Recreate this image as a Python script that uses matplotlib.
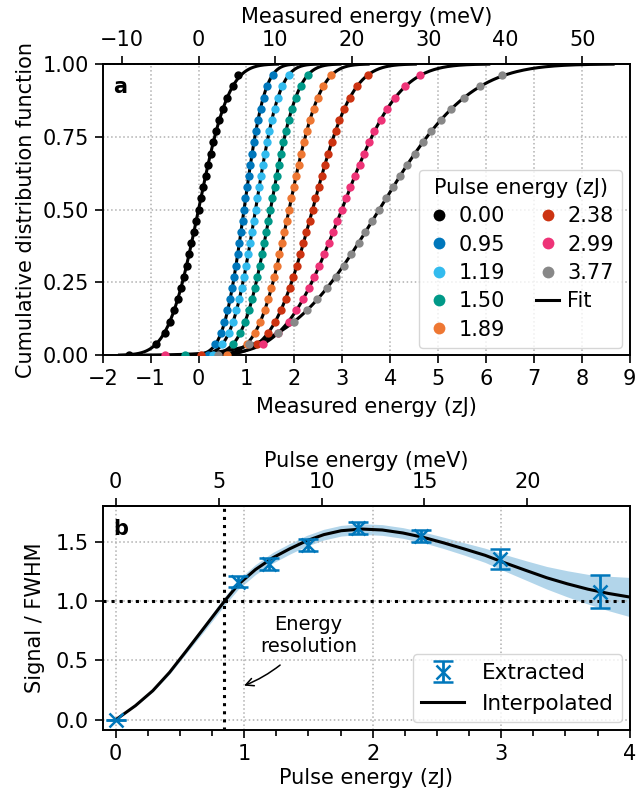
import math
import numpy as np
import matplotlib
matplotlib.use("Agg")
import matplotlib.pyplot as plt
from matplotlib.lines import Line2D

ZJ_TO_MEV = 6.2415

# ---- panel a: measured energy samples (zJ), 26 per pulse, CDF levels k/26
pulses = ["0.00", "0.95", "1.19", "1.50", "1.89", "2.38", "2.99", "3.77"]
colors = ["#000000", "#0077BB", "#33BBEE", "#009988", "#EE7733", "#CC3311", "#EE3377", "#888888"]
fit_mu = [0.00, 0.95, 1.19, 1.50, 1.89, 2.38, 2.99, 3.77]
fit_sigma = [0.50, 0.335, 0.39, 0.44, 0.50, 0.65, 0.93, 1.48]

samples = [
    [-1.46, -0.88, -0.71, -0.60, -0.51, -0.43, -0.37, -0.31, -0.25, -0.20, -0.15, -0.10, -0.05,
     0.00, 0.05, 0.10, 0.15, 0.20, 0.25, 0.31, 0.37, 0.43, 0.51, 0.60, 0.71, 0.83],
    [0.20, 0.35, 0.47, 0.54, 0.60, 0.66, 0.70, 0.74, 0.78, 0.82, 0.85, 0.88, 0.92,
     0.95, 0.98, 1.02, 1.05, 1.08, 1.12, 1.16, 1.20, 1.25, 1.30, 1.36, 1.43, 1.55],
    [0.30, 0.50, 0.63, 0.72, 0.79, 0.85, 0.90, 0.95, 0.99, 1.04, 1.08, 1.11, 1.15,
     1.19, 1.23, 1.27, 1.30, 1.34, 1.39, 1.43, 1.48, 1.53, 1.59, 1.66, 1.75, 1.88],
    [-0.28, 0.72, 0.87, 0.97, 1.05, 1.12, 1.18, 1.23, 1.28, 1.33, 1.37, 1.41, 1.46,
     1.50, 1.54, 1.59, 1.63, 1.67, 1.72, 1.77, 1.82, 1.88, 1.95, 2.03, 2.13, 2.28],
    [0.60, 1.01, 1.18, 1.29, 1.38, 1.46, 1.52, 1.58, 1.64, 1.69, 1.74, 1.79, 1.84,
     1.89, 1.94, 1.99, 2.04, 2.09, 2.14, 2.20, 2.26, 2.32, 2.40, 2.49, 2.60, 2.77],
    [0.05, 1.23, 1.45, 1.60, 1.72, 1.82, 1.90, 1.98, 2.05, 2.12, 2.19, 2.25, 2.32,
     2.38, 2.44, 2.51, 2.57, 2.64, 2.71, 2.78, 2.86, 2.94, 3.04, 3.16, 3.31, 3.53],
    [-0.70, 1.35, 1.66, 1.88, 2.04, 2.18, 2.31, 2.42, 2.52, 2.62, 2.72, 2.81, 2.90,
     2.99, 3.08, 3.17, 3.26, 3.36, 3.46, 3.56, 3.67, 3.80, 3.94, 4.10, 4.32, 4.62],
    [0.40, 1.05, 1.66, 2.00, 2.26, 2.48, 2.68, 2.86, 3.03, 3.18, 3.34, 3.48, 3.63,
     3.77, 3.91, 4.06, 4.20, 4.36, 4.51, 4.68, 4.86, 5.06, 5.28, 5.54, 5.88, 6.34],
]

# ---- panel b
ext_x = [0.0, 0.95, 1.19, 1.50, 1.89, 2.38, 2.99, 3.77]
ext_y = [0.0, 1.162, 1.313, 1.47, 1.615, 1.545, 1.355, 1.078]
ext_err = [0.0, 0.045, 0.05, 0.05, 0.05, 0.05, 0.085, 0.14]

interp_x = [0, 0.155, 0.29, 0.42, 0.55, 0.69, 0.848, 0.955, 1.088, 1.221, 1.355, 1.488, 1.62, 1.755,
            1.915, 2.075, 2.235, 2.395, 2.555, 2.715, 2.875, 3.03, 3.195, 3.355, 3.515, 3.675, 3.835, 4.0]
interp_y = [0, 0.12, 0.246, 0.40, 0.58, 0.777, 1.0, 1.14, 1.265, 1.363, 1.44, 1.508, 1.559, 1.592,
            1.606, 1.598, 1.573, 1.536, 1.489, 1.438, 1.385, 1.321, 1.257, 1.196, 1.145, 1.10, 1.064, 1.034]
band_hw = [0, 0.005, 0.01, 0.015, 0.02, 0.03, 0.035, 0.04, 0.042, 0.045, 0.045, 0.045, 0.045, 0.045,
           0.045, 0.045, 0.045, 0.045, 0.048, 0.052, 0.06, 0.07, 0.082, 0.095, 0.11, 0.125, 0.145, 0.165]

resolution = 0.842

plt.rcParams["font.family"] = ["DejaVu Sans"]
plt.rcParams["font.size"] = 15
plt.rcParams["axes.linewidth"] = 1.4
plt.rcParams["xtick.major.width"] = 1.2
plt.rcParams["ytick.major.width"] = 1.2
plt.rcParams["xtick.minor.width"] = 1.2
plt.rcParams["xtick.major.size"] = 5.8
plt.rcParams["ytick.major.size"] = 5.8
plt.rcParams["xtick.minor.size"] = 4.5
plt.rcParams["xtick.major.pad"] = 4
plt.rcParams["ytick.major.pad"] = 4

fig = plt.figure(figsize=(6.38, 8.0), dpi=100)
grid_kw = dict(linestyle=":", color="#b0b0b0", linewidth=1.1)

# ---------------- panel a
ax = fig.add_axes([0.161, 0.556, 0.826, 0.364])
ax.grid(True, **grid_kw)
for mu, sg in zip(fit_mu, fit_sigma):
    xs = np.linspace(mu - 3.3 * sg, mu + 3.3 * sg, 200)
    ys = [0.5 * (1 + math.erf((v - mu) / (sg * math.sqrt(2)))) for v in xs]
    ax.plot(xs, ys, color="black", lw=2.2, zorder=2)
handles = []
for s, c, lab in zip(samples, colors, pulses):
    lev = np.arange(len(s)) / len(s)
    ax.plot(s, lev, "o", color=c, ms=6.0, mec="none", zorder=3)
    handles.append(Line2D([], [], marker="o", ls="none", color=c, ms=8.5, mec="none", label=lab))
handles.append(Line2D([], [], color="black", lw=2.2, label="Fit"))
ax.set_xlim(-2, 9)
ax.set_ylim(0, 1)
ax.set_xticks(range(-2, 10))
ax.set_yticks([0, 0.25, 0.5, 0.75, 1.0])
ax.set_yticklabels(["0.00", "0.25", "0.50", "0.75", "1.00"])
ax.set_xlabel("Measured energy (zJ)", labelpad=6)
ax.set_ylabel("Cumulative distribution function", labelpad=5)
ax.text(0.02, 0.9, "a", transform=ax.transAxes, fontweight="bold", fontsize=15)
leg = ax.legend(handles=handles, ncol=2, loc="lower right", title="Pulse energy (zJ)",
                fontsize=15, title_fontsize=15, handlelength=1.1, handletextpad=0.4,
                columnspacing=1.5, labelspacing=0.4, borderpad=0.4, borderaxespad=0.35)
sec = ax.secondary_xaxis("top", functions=(lambda x: x * ZJ_TO_MEV, lambda x: x / ZJ_TO_MEV))
sec.set_xticks(range(-10, 60, 10))
sec.set_xlabel("Measured energy (meV)", labelpad=5)

# ---------------- panel b
bx = fig.add_axes([0.161, 0.0875, 0.826, 0.28])
bx.grid(True, **grid_kw)
bx.fill_between(interp_x, np.array(interp_y) - np.array(band_hw), np.array(interp_y) + np.array(band_hw),
                color="#0077BB", alpha=0.3, lw=0, zorder=1)
ln, = bx.plot(interp_x, interp_y, color="black", lw=2.2, label="Interpolated", zorder=3)
eb = bx.errorbar(ext_x, ext_y, yerr=ext_err, fmt="x", color="#0077BB", ms=10, mew=1.8,
                 capsize=7, elinewidth=2, capthick=2, label="Extracted", zorder=4)
bx.axvline(resolution, color="black", ls=":", lw=2.2, zorder=2)
bx.axhline(1.0, color="black", ls=":", lw=2.2, zorder=2)
bx.annotate("Energy\nresolution", xy=(0.98, 0.28), xytext=(1.5, 0.71), ha="center", va="center",
            fontsize=14, arrowprops=dict(arrowstyle="->", color="black", lw=1.1,
                                         connectionstyle="arc3,rad=-0.15", shrinkA=7))
bx.set_xlim(-0.1, 4.0)
bx.set_ylim(-0.085, 1.80)
bx.set_xticks([0, 1, 2, 3, 4])
bx.set_xticks(np.arange(0, 4.01, 0.25), minor=True)
bx.set_yticks([0, 0.5, 1.0, 1.5])
bx.set_xlabel("Pulse energy (zJ)", labelpad=3)
bx.set_ylabel("Signal / FWHM", labelpad=8)
bx.text(0.02, 0.87, "b", transform=bx.transAxes, fontweight="bold", fontsize=15)
bx.legend(handles=[eb, ln], loc="lower right", fontsize=15.5, handlelength=2.0, borderpad=0.4,
          labelspacing=0.5, borderaxespad=0.35)
sec2 = bx.secondary_xaxis("top", functions=(lambda x: x * ZJ_TO_MEV, lambda x: x / ZJ_TO_MEV))
sec2.set_xticks([0, 5, 10, 15, 20])
sec2.set_xlabel("Pulse energy (meV)", labelpad=4)

fig.savefig("out.png", dpi=100)
